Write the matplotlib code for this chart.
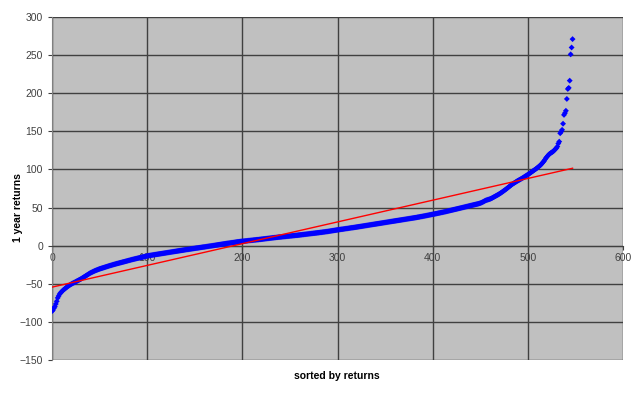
import matplotlib
matplotlib.use("Agg")
import matplotlib.pyplot as plt
import numpy as np

plt.rcParams['font.family'] = ['Liberation Sans', 'DejaVu Sans']

# sorted 1-year returns (index 0..547)
returns = [
    -86.0, -84.5, -82.0, -80.0, -76.5, -73.0, -68.5, -66.0, -63.5, -62.0,
    -60.5, -59.5, -58.0, -57.0, -56.0, -55.0, -54.0, -53.0, -52.2, -51.4,
    -50.6, -49.9, -49.2, -48.6, -48.0, -47.3, -46.6, -46.0, -45.3, -44.6,
    -44.0, -43.2, -42.4, -41.6, -40.8, -40.0, -39.2, -38.4, -37.6, -36.8,
    -36.0, -35.4, -34.8, -34.2, -33.6, -33.0, -32.5, -32.0, -31.5, -31.0,
    -30.5, -30.1, -29.7, -29.3, -28.9, -28.5, -28.1, -27.7, -27.3, -26.9,
    -26.5, -26.1, -25.8, -25.4, -25.0, -24.7, -24.3, -24.0, -23.6, -23.3,
    -23.0, -22.6, -22.3, -22.0, -21.6, -21.3, -21.0, -20.6, -20.3, -20.0,
    -19.6, -19.3, -19.0, -18.6, -18.3, -18.0, -17.7, -17.4, -17.1, -16.8,
    -16.5, -16.2, -15.9, -15.6, -15.3, -15.0, -14.7, -14.4, -14.1, -13.8,
    -13.5, -13.3, -13.0, -12.8, -12.6, -12.4, -12.2, -12.0, -11.8, -11.6,
    -11.4, -11.2, -11.0, -10.8, -10.6, -10.4, -10.2, -10.0, -9.8, -9.6,
    -9.4, -9.2, -9.0, -8.8, -8.6, -8.4, -8.2, -8.0, -7.8, -7.6,
    -7.4, -7.2, -7.0, -6.8, -6.6, -6.4, -6.2, -6.0, -5.8, -5.6,
    -5.4, -5.2, -5.0, -4.9, -4.7, -4.5, -4.3, -4.1, -3.9, -3.7,
    -3.5, -3.3, -3.1, -3.0, -2.8, -2.6, -2.4, -2.2, -2.0, -1.8,
    -1.7, -1.5, -1.3, -1.1, -0.9, -0.7, -0.5, -0.4, -0.2, 0.0,
    0.2, 0.4, 0.6, 0.8, 1.0, 1.2, 1.4, 1.6, 1.8, 2.0,
    2.2, 2.4, 2.6, 2.8, 3.0, 3.2, 3.3, 3.5, 3.7, 3.9,
    4.0, 4.2, 4.4, 4.6, 4.8, 5.0, 5.1, 5.3, 5.5, 5.6,
    5.8, 5.9, 6.0, 6.2, 6.3, 6.4, 6.6, 6.7, 6.8, 7.0,
    7.1, 7.2, 7.4, 7.5, 7.6, 7.8, 7.9, 8.0, 8.2, 8.3,
    8.5, 8.6, 8.8, 8.9, 9.1, 9.2, 9.4, 9.5, 9.7, 9.8,
    10.0, 10.1, 10.3, 10.4, 10.6, 10.7, 10.9, 11.0, 11.2, 11.3,
    11.4, 11.5, 11.7, 11.8, 11.9, 12.0, 12.2, 12.3, 12.4, 12.5,
    12.7, 12.8, 12.9, 13.1, 13.2, 13.3, 13.5, 13.6, 13.7, 13.9,
    14.0, 14.2, 14.3, 14.5, 14.6, 14.8, 14.9, 15.1, 15.2, 15.4,
    15.5, 15.7, 15.8, 16.0, 16.1, 16.3, 16.4, 16.6, 16.7, 16.9,
    17.0, 17.2, 17.4, 17.5, 17.7, 17.9, 18.0, 18.2, 18.4, 18.5,
    18.7, 18.9, 19.1, 19.3, 19.5, 19.7, 19.9, 20.1, 20.3, 20.5,
    20.7, 20.9, 21.1, 21.3, 21.5, 21.6, 21.8, 22.0, 22.2, 22.4,
    22.5, 22.7, 22.9, 23.1, 23.3, 23.5, 23.6, 23.8, 24.0, 24.2,
    24.4, 24.6, 24.8, 25.0, 25.2, 25.4, 25.6, 25.8, 26.0, 26.2,
    26.4, 26.6, 26.8, 27.0, 27.2, 27.4, 27.6, 27.8, 28.0, 28.2,
    28.4, 28.6, 28.8, 29.0, 29.2, 29.4, 29.6, 29.8, 30.0, 30.2,
    30.4, 30.6, 30.8, 31.0, 31.2, 31.4, 31.6, 31.8, 32.0, 32.2,
    32.4, 32.6, 32.8, 33.0, 33.2, 33.4, 33.6, 33.8, 34.0, 34.2,
    34.4, 34.6, 34.8, 35.0, 35.2, 35.4, 35.6, 35.8, 36.0, 36.2,
    36.4, 36.6, 36.8, 37.0, 37.3, 37.5, 37.7, 38.0, 38.2, 38.4,
    38.7, 38.9, 39.1, 39.4, 39.6, 39.9, 40.1, 40.4, 40.6, 40.9,
    41.1, 41.4, 41.6, 41.9, 42.1, 42.4, 42.7, 42.9, 43.2, 43.5,
    43.7, 44.0, 44.3, 44.5, 44.8, 45.1, 45.4, 45.7, 46.0, 46.3,
    46.6, 46.9, 47.2, 47.5, 47.8, 48.1, 48.4, 48.7, 49.0, 49.3,
    49.6, 49.9, 50.2, 50.5, 50.8, 51.1, 51.4, 51.7, 52.0, 52.3,
    52.6, 52.9, 53.2, 53.5, 53.8, 54.1, 54.4, 54.7, 55.0, 55.4,
    55.8, 56.3, 56.9, 57.5, 58.2, 58.9, 59.5, 59.9, 60.3, 60.7,
    61.1, 61.6, 62.2, 62.9, 63.6, 64.3, 65.0, 65.7, 66.4, 67.1,
    67.9, 68.7, 69.5, 70.4, 71.3, 72.2, 73.1, 74.0, 75.0, 76.0,
    77.0, 78.0, 79.0, 80.0, 80.9, 81.7, 82.5, 83.3, 84.1, 84.9,
    85.6, 86.3, 87.0, 87.7, 88.4, 89.2, 90.0, 90.8, 91.6, 92.4,
    93.2, 94.0, 94.9, 95.8, 96.7, 97.6, 98.5, 99.4, 100.3, 101.2,
    102.2, 103.2, 104.3, 105.4, 106.6, 108.0, 109.5, 111.0, 113.0, 115.0,
    116.5, 118.0, 119.5, 120.5, 121.5, 122.3, 123.0, 124.0, 125.5, 126.8,
    128.0, 130.0, 134.0, 136.5, 147.5, 149.6, 152.0, 160.0, 171.6, 174.0,
    177.0, 192.5, 205.6, 207.0, 216.5, 251.0, 260.0, 271.0,
]

x_ticks = [0, 100, 200, 300, 400, 500, 600]
y_ticks = [-150, -100, -50, 0, 50, 100, 150, 200, 250, 300]
x_label = "sorted by returns"
y_label = "1 year returns"

y = np.array(returns)
x = np.arange(len(y))

fig = plt.figure(figsize=(6.4, 3.94), dpi=100)
ax = fig.add_axes([52/640, 1-360/394, (623-52)/640, (360-17)/394])
ax.set_facecolor('#C0C0C0')

ax.scatter(x, y, marker='D', s=9, color='#0000FF', edgecolors='none', zorder=3)

# linear trend line
slope, intercept = np.polyfit(x, y, 1)
ax.plot([x[0], x[-1]], [intercept + slope*x[0], intercept + slope*x[-1]],
        color='#FF0000', lw=1.0, zorder=4)

ax.set_xlim(0, 600)
ax.set_ylim(-150, 300)
ax.set_xticks(x_ticks)
ax.set_yticks(y_ticks)
ax.grid(True, color='#404040', lw=1.0)
ax.set_axisbelow(True)

for s in ['top', 'right']:
    ax.spines[s].set_visible(False)
ax.spines['left'].set_color('#808080')
ax.spines['bottom'].set_position(('data', 0))
ax.spines['bottom'].set_color('#404040')
ax.tick_params(axis='both', labelsize=7.5, colors='#404040', length=3, width=0.8)
ax.tick_params(axis='x', pad=2)

fig.text(337/640, 1-376/394, x_label, ha='center', va='center', fontsize=7.5,
         fontweight='bold', color='#000000')
fig.text(18/640, 1-208/394, y_label, ha='center', va='center', fontsize=7.5,
         fontweight='bold', rotation=90, color='#000000')

fig.savefig('out.png', dpi=100, facecolor='white')
